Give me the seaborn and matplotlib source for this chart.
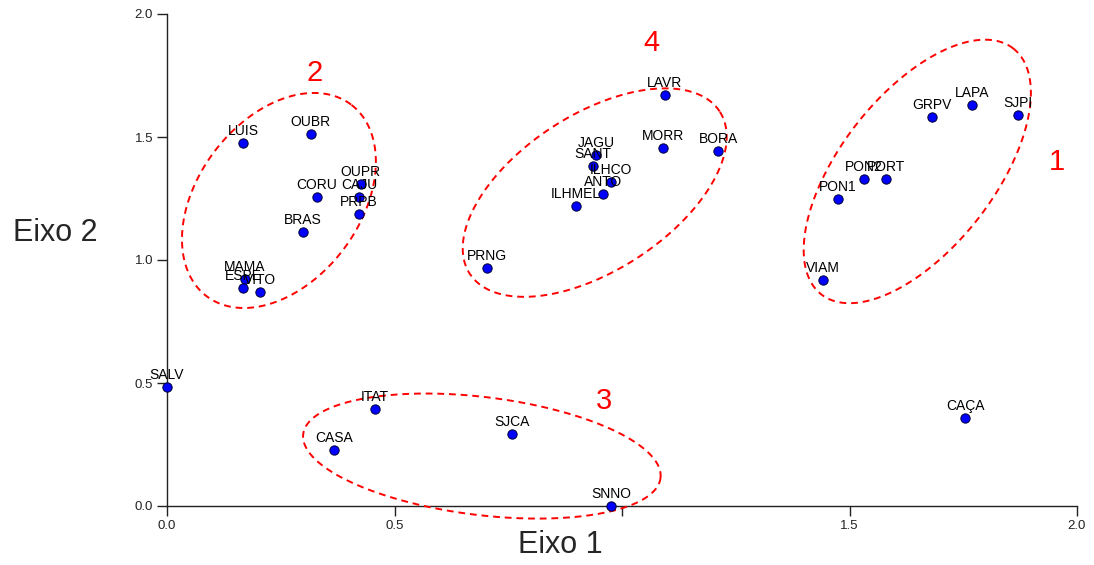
import numpy as np
import pandas as pd
import matplotlib
matplotlib.use('Agg')
import matplotlib.pyplot as plt
import seaborn as sns

# sites and their scores on the two ordination axes
sites = ['SALV', 'ITAT', 'CASA', 'SJCA', 'SNNO', 'CAÇA', 'VIAM', 'PON1', 'PON2',
         'PORT', 'GRPV', 'LAPA', 'SJPI', 'LUIS', 'OUBR', 'OUPR', 'CAJU', 'CORU',
         'PRPB', 'BRAS', 'MAMA', 'ESPE', 'VITO', 'LAVR', 'MORR', 'BORA', 'JAGU',
         'SANT', 'ILHCO', 'ANTO', 'ILHMEL', 'PRNG']
eixo1 = [0.000, 0.457, 0.367, 0.758, 0.976, 1.754, 1.442, 1.475, 1.532,
         1.580, 1.681, 1.769, 1.870, 0.167, 0.316, 0.426, 0.422, 0.330,
         0.422, 0.299, 0.171, 0.167, 0.204, 1.094, 1.090, 1.211, 0.943,
         0.936, 0.976, 0.958, 0.899, 0.703]
eixo2 = [0.484, 0.394, 0.228, 0.293, 0.000, 0.358, 0.919, 1.248, 1.329,
         1.329, 1.581, 1.630, 1.589, 1.476, 1.512, 1.309, 1.256, 1.256,
         1.187, 1.114, 0.924, 0.886, 0.870, 1.671, 1.455, 1.443, 1.427,
         1.382, 1.317, 1.268, 1.220, 0.968]

# groups: label, centre (data), semi axes (px), angle (deg), label position
group_ids = ['1', '2', '3', '4']
group_cx = [1.649, 0.246, 0.692, 0.940]
group_cy = [1.360, 1.242, 0.203, 1.274]
group_a = [156, 120, 180, 149]
group_b = [77, 81, 59, 78]
group_ang = [52, 53, -7, 33]
group_lx = [1.956, 0.325, 0.960, 1.064]
group_ly = [1.398, 1.760, 0.427, 1.882]

df = pd.DataFrame({'site': sites, 'eixo1': eixo1, 'eixo2': eixo2})

sns.set_style('white')
plt.rcParams['font.family'] = ['Liberation Sans', 'DejaVu Sans']

fig = plt.figure(figsize=(10.94, 5.65), dpi=100)
ax = fig.add_axes([167 / 1094, 59 / 565, 910 / 1094, 492 / 565])

sns.scatterplot(data=df, x='eixo1', y='eixo2', ax=ax, color='#0000ff',
                edgecolor='#000033', linewidth=0.7, s=45, zorder=5, clip_on=False)

for _, r in df.iterrows():
    ax.annotate(r['site'], (r['eixo1'], r['eixo2']), xytext=(0, 3.5),
                textcoords='offset points', ha='center', va='bottom',
                fontsize=10, color='#000000', zorder=6)

ax.set_xlim(0, 2)
ax.set_ylim(0, 2)

# pixel -> data scale
px_x = ax.bbox.width / 2.0
px_y = ax.bbox.height / 2.0
t = np.linspace(0, 2 * np.pi, 300)
for gid, cx, cy, a, b, ang, lx, ly in zip(group_ids, group_cx, group_cy, group_a,
                                            group_b, group_ang, group_lx, group_ly):
    th = np.deg2rad(ang)
    dx = a * np.cos(t) * np.cos(th) - b * np.sin(t) * np.sin(th)
    dy = a * np.cos(t) * np.sin(th) + b * np.sin(t) * np.cos(th)
    ax.plot(cx + dx / px_x, cy + dy / px_y, color='#ff0000', lw=1.4,
            linestyle=(0, (3.5, 2.5)), clip_on=False, zorder=3)
    ax.text(lx, ly, gid, color='#ff0000', fontsize=21, ha='center', va='center')

sns.despine(ax=ax)
for s in ['left', 'bottom']:
    ax.spines[s].set_color('#222222')
    ax.spines[s].set_linewidth(1.0)

ax.set_xticks([0, 0.5, 1.0, 1.5, 2.0])
ax.set_xticklabels(['0.0', '0.5', '', '1.5', '2.0'])
ax.set_yticks([0, 0.5, 1.0, 1.5, 2.0])
ax.set_yticklabels(['0.0', '0.5', '1.0', '1.5', '2.0'])
ax.tick_params(axis='both', direction='out', length=7, width=1, color='#222222',
               labelsize=9.5, labelcolor='#222222', pad=3, bottom=True, left=True)
ax.set_xlabel('')
ax.set_ylabel('')

fig.text(560 / 1094, 1 - 545 / 565, 'Eixo 1', fontsize=22, ha='center', va='center')
fig.text(55 / 1094, 1 - 233 / 565, 'Eixo 2', fontsize=22, ha='center', va='center')

fig.savefig('out.png', dpi=100)
